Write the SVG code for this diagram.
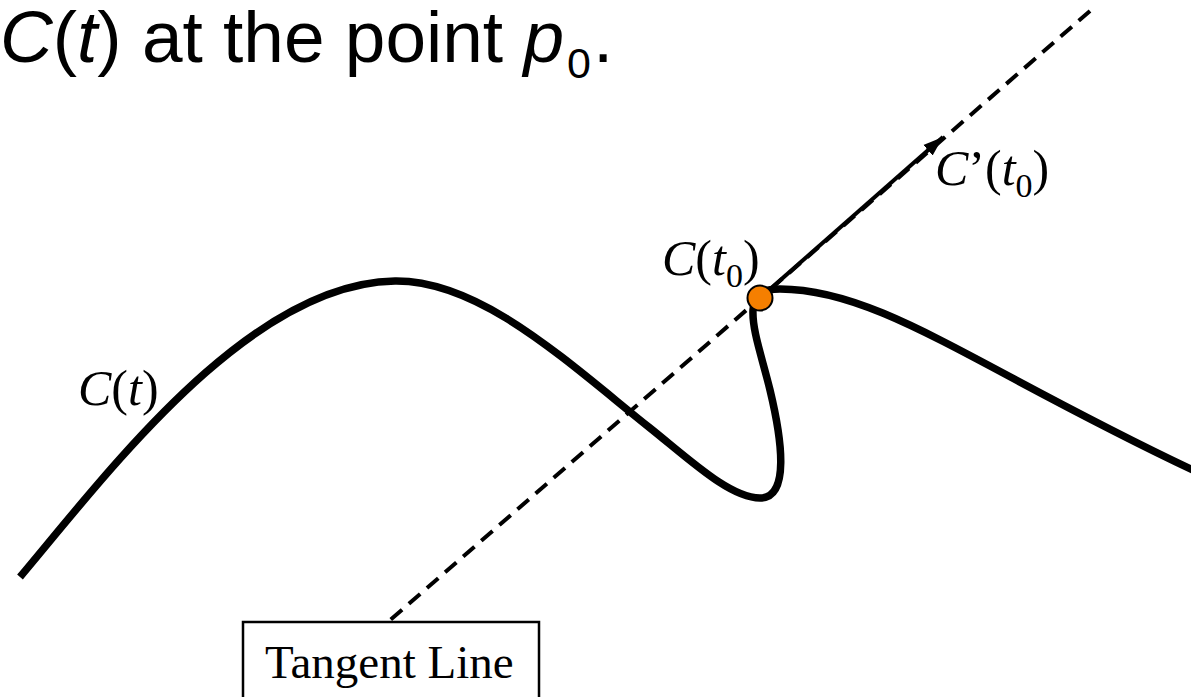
<svg xmlns="http://www.w3.org/2000/svg" width="1191" height="697" viewBox="0 0 1191 697">
<style>
.title{font-family:"Liberation Sans",Arial,sans-serif;font-size:73px;fill:#000}
.lbl{font-family:"Liberation Serif","Times New Roman",serif;font-size:50px;fill:#000}
.it{font-style:italic}
.sub{font-size:34px}
.curve{fill:none;stroke:#000;stroke-width:7.5;stroke-linecap:butt;stroke-linejoin:round}
.dash{fill:none;stroke:#000;stroke-width:4;stroke-dasharray:15 9}
.arrow{fill:none;stroke:#000;stroke-width:4}
</style>
<defs>
<marker id="ah" markerUnits="userSpaceOnUse" markerWidth="22" markerHeight="16" refX="20" refY="8" orient="auto">
<path d="M0,1 L20,8 L0,15 Z" fill="#000"/>
</marker>
</defs>
<g id="title">
<text class="title" x="0" y="62"><tspan class="it">C</tspan>(<tspan class="it">t</tspan>) at the point <tspan class="it">p</tspan></text>
<text class="title" x="567" y="78" style="font-size:43px">0</text>
<text class="title" x="593" y="62">.</text>
</g>
<g id="connectors">
<line id="tangent-line" class="dash" x1="1090" y1="11" x2="388" y2="622"/>
<line id="derivative" class="arrow" x1="760" y1="298" x2="943" y2="137" marker-end="url(#ah)"/>
</g>
<g id="curve">
<path class="curve" d="M20,577 C110,470 250,283 395,281 C480,280 565,360 650,428 C690,460 730,498 760,498 C790,498 782,440 770,390 C762,357 752,330 753,310 C754,292 765,289 780,289 C880,289 980,370 1195,471"/>
<text class="lbl" x="78" y="405"><tspan class="it">C</tspan>(<tspan class="it">t</tspan>)</text>
</g>
<g id="point">
<circle cx="760" cy="298" r="12.5" fill="#F57F00" stroke="#000" stroke-width="2"/>
<text class="lbl" x="662" y="275"><tspan class="it">C</tspan>(<tspan class="it">t</tspan><tspan class="sub" dy="12">0</tspan><tspan dy="-12">)</tspan></text>
</g>
<g id="derivative-label">
<text class="lbl" x="935" y="185"><tspan class="it">C</tspan>’(<tspan class="it">t</tspan><tspan class="sub" dy="12">0</tspan><tspan dy="-12">)</tspan></text>
</g>
<g id="tangent-box">
<rect x="243" y="622" width="296" height="100" fill="#fff" stroke="#000" stroke-width="2.5"/>
<text class="lbl" x="265" y="678" style="font-size:47px">Tangent Line</text>
</g>
</svg>
